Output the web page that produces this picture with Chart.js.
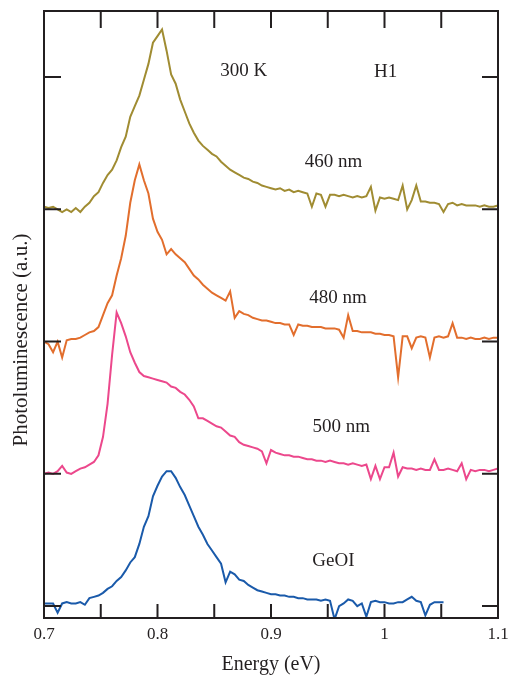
<!DOCTYPE html>
<html>
<head>
<meta charset="utf-8">
<title>PL spectra</title>
<script src="https://cdn.jsdelivr.net/npm/chart.js@4.4.1/dist/chart.umd.min.js"></script>
<style>
  html, body { margin: 0; padding: 0; background: #fff; }
</style>
</head>
<body>
<canvas id="plChart" width="509" height="677"></canvas>
<script>
// photon energy grid (eV)
const energy = [
  0.700, 0.704, 0.708, 0.712, 0.716, 0.720, 0.724, 0.728, 0.732, 0.736,
  0.740, 0.744, 0.748, 0.752, 0.756, 0.760, 0.764, 0.768, 0.772, 0.776,
  0.780, 0.784, 0.788, 0.792, 0.796, 0.800, 0.804, 0.808, 0.812, 0.816,
  0.820, 0.824, 0.828, 0.832, 0.836, 0.840, 0.844, 0.848, 0.852, 0.856,
  0.860, 0.864, 0.868, 0.872, 0.876, 0.880, 0.884, 0.888, 0.892, 0.896,
  0.900, 0.904, 0.908, 0.912, 0.916, 0.920, 0.924, 0.928, 0.932, 0.936,
  0.940, 0.944, 0.948, 0.952, 0.956, 0.960, 0.964, 0.968, 0.972, 0.976,
  0.980, 0.984, 0.988, 0.992, 0.996, 1.000, 1.004, 1.008, 1.012, 1.016,
  1.020, 1.024, 1.028, 1.032, 1.036, 1.040, 1.044, 1.048, 1.052, 1.056,
  1.060, 1.064, 1.068, 1.072, 1.076, 1.080, 1.084, 1.088, 1.092, 1.096,
  1.100
];

// PL intensity (a.u.), each spectrum relative to its own baseline
const pl460 = [
  0.02, 0.01, 0.02, 0.00, -0.02, 0.00, -0.02, 0.01, -0.02, 0.02,
  0.05, 0.10, 0.13, 0.20, 0.26, 0.30, 0.37, 0.47, 0.55, 0.70,
  0.78, 0.86, 0.98, 1.10, 1.26, 1.31, 1.36, 1.20, 1.02, 0.95,
  0.83, 0.74, 0.65, 0.58, 0.52, 0.48, 0.45, 0.42, 0.40, 0.36,
  0.33, 0.30, 0.28, 0.26, 0.24, 0.23, 0.21, 0.20, 0.18, 0.17,
  0.16, 0.15, 0.16, 0.14, 0.15, 0.13, 0.14, 0.13, 0.12, 0.02,
  0.12, 0.11, 0.02, 0.11, 0.11, 0.10, 0.11, 0.10, 0.09, 0.10,
  0.09, 0.10, 0.17, -0.01, 0.09, 0.08, 0.09, 0.08, 0.07, 0.18,
  0.00, 0.07, 0.18, 0.06, 0.06, 0.05, 0.05, 0.04, -0.02, 0.04,
  0.05, 0.03, 0.04, 0.03, 0.03, 0.03, 0.02, 0.03, 0.02, 0.02,
  0.03
];
const pl480 = [
  0.00, -0.02, -0.08, 0.00, -0.12, 0.01, 0.02, 0.02, 0.03, 0.05,
  0.07, 0.08, 0.11, 0.20, 0.29, 0.35, 0.50, 0.63, 0.80, 1.05,
  1.22, 1.34, 1.22, 1.12, 0.93, 0.83, 0.77, 0.66, 0.70, 0.66,
  0.63, 0.60, 0.55, 0.50, 0.47, 0.43, 0.40, 0.37, 0.35, 0.33,
  0.31, 0.38, 0.18, 0.23, 0.21, 0.20, 0.18, 0.17, 0.16, 0.16,
  0.15, 0.14, 0.14, 0.13, 0.13, 0.05, 0.13, 0.12, 0.12, 0.11,
  0.11, 0.11, 0.10, 0.10, 0.10, 0.09, 0.03, 0.20, 0.08, 0.08,
  0.07, 0.07, 0.07, 0.06, 0.06, 0.05, 0.05, 0.04, -0.27, 0.04,
  0.04, -0.05, 0.03, 0.04, 0.03, -0.12, 0.03, 0.04, 0.03, 0.04,
  0.14, 0.03, 0.03, 0.02, 0.03, 0.02, 0.02, 0.03, 0.02, 0.03,
  0.03
];
const pl500 = [
  0.00, 0.01, 0.00, 0.02, 0.06, 0.01, 0.00, 0.02, 0.04, 0.05,
  0.07, 0.09, 0.14, 0.28, 0.53, 0.90, 1.22, 1.14, 1.04, 0.92,
  0.84, 0.77, 0.74, 0.73, 0.72, 0.71, 0.70, 0.69, 0.66, 0.65,
  0.62, 0.60, 0.56, 0.51, 0.42, 0.42, 0.40, 0.38, 0.36, 0.35,
  0.32, 0.29, 0.28, 0.24, 0.22, 0.21, 0.20, 0.19, 0.17, 0.08,
  0.18, 0.16, 0.15, 0.14, 0.14, 0.13, 0.13, 0.12, 0.11, 0.11,
  0.10, 0.10, 0.09, 0.10, 0.09, 0.08, 0.08, 0.07, 0.08, 0.07,
  0.06, 0.07, -0.04, 0.06, -0.04, 0.05, 0.05, 0.16, -0.02, 0.05,
  0.04, 0.04, 0.03, 0.04, 0.03, 0.03, 0.11, 0.03, 0.03, 0.04,
  0.03, 0.02, 0.08, -0.04, 0.03, 0.02, 0.03, 0.03, 0.02, 0.03,
  0.04
];
const plGeOI = [
  0.02, 0.02, 0.02, -0.05, 0.02, 0.03, 0.02, 0.02, 0.03, 0.01,
  0.06, 0.07, 0.08, 0.10, 0.13, 0.15, 0.19, 0.22, 0.27, 0.33,
  0.37, 0.47, 0.60, 0.68, 0.83, 0.91, 0.98, 1.02, 1.02, 0.97,
  0.90, 0.84, 0.76, 0.68, 0.60, 0.54, 0.47, 0.42, 0.37, 0.32,
  0.18, 0.26, 0.24, 0.20, 0.19, 0.16, 0.14, 0.12, 0.11, 0.10,
  0.09, 0.09, 0.08, 0.08, 0.07, 0.07, 0.06, 0.06, 0.05, 0.05,
  0.05, 0.04, 0.05, 0.04, -0.10, 0.00, 0.02, 0.05, 0.04, 0.00,
  0.02, -0.08, 0.03, 0.04, 0.03, 0.03, 0.02, 0.02, 0.03, 0.03,
  0.05, 0.07, 0.04, 0.03, -0.07, 0.01, 0.03, 0.03, 0.03, null,
  null, null, null, null, null, null, null, null, null, null,
  null
];

const seriesNames = ['460 nm', '480 nm', '500 nm', 'GeOI'];
const seriesValues = [pl460, pl480, pl500, plGeOI];
const offsets = [3, 2, 1, 0];
const colors = ['#a08c32', '#e26e2d', '#ec488c', '#1a5aaa'];

const xLabelValues = [0.7, 0.8, 0.9, 1.0, 1.1];
const xTickLabels = ['0.7', '0.8', '0.9', '1', '1.1'];
const xTickMarks = [0.7, 0.75, 0.8, 0.85, 0.9, 0.95, 1.0, 1.05, 1.1];
const yTickMarks = [0, 1, 2, 3, 4];

// text in the plot: [text, energy, level]
const notes = [
  ['300 K', 0.876, 4.01],
  ['H1', 1.001, 4.00],
  ['460 nm', 0.955, 3.32],
  ['480 nm', 0.959, 2.29],
  ['500 nm', 0.962, 1.32],
  ['GeOI', 0.955, 0.30]
];

const serif = '"Liberation Serif", "Times New Roman", serif';
const ink = '#231f20';

const datasets = seriesValues.map((vals, s) => ({
  label: seriesNames[s],
  data: energy.map((e, i) => ({ x: e, y: vals[i] === null ? null : vals[i] + offsets[s] })),
  borderColor: colors[s],
  borderWidth: 2,
  pointRadius: 0,
  tension: 0,
  spanGaps: false
}));

const framePlugin = {
  id: 'frame',
  afterDraw(chart) {
    const { ctx, chartArea: a, scales: { x, y } } = chart;
    ctx.save();
    ctx.strokeStyle = ink;
    ctx.lineWidth = 2;
    ctx.strokeRect(a.left, a.top, a.right - a.left, a.bottom - a.top);
    ctx.beginPath();
    xTickMarks.forEach(v => {
      const px = x.getPixelForValue(v);
      ctx.moveTo(px, a.bottom); ctx.lineTo(px, a.bottom - 14);
      ctx.moveTo(px, a.top); ctx.lineTo(px, a.top + 17);
    });
    yTickMarks.forEach(v => {
      const py = y.getPixelForValue(v);
      ctx.moveTo(a.left, py); ctx.lineTo(a.left + 17, py);
      ctx.moveTo(a.right, py); ctx.lineTo(a.right - 16, py);
    });
    ctx.stroke();

    ctx.fillStyle = ink;
    ctx.font = '19px ' + serif;
    ctx.textAlign = 'center';
    ctx.textBaseline = 'alphabetic';
    notes.forEach(n => ctx.fillText(n[0], x.getPixelForValue(n[1]), y.getPixelForValue(n[2])));

    // y axis title
    ctx.translate(a.left - 23, a.top + 329);
    ctx.rotate(-Math.PI / 2);
    ctx.font = '21px ' + serif;
    ctx.textBaseline = 'middle';
    ctx.fillText('Photoluminescence (a.u.)', 0, 0);
    ctx.restore();
  }
};

const ctx = document.getElementById('plChart').getContext('2d');
const plChart = new Chart(ctx, {
  type: 'line',
  data: { datasets: datasets },
  options: {
    responsive: false,
    animation: false,
    layout: { autoPadding: false, padding: { left: 44, right: 11, top: 11, bottom: 0 } },
    plugins: { legend: { display: false }, tooltip: { enabled: false } },
    scales: {
      x: {
        type: 'linear',
        min: 0.7,
        max: 1.1,
        border: { display: false },
        grid: { display: false, drawTicks: false },
        afterBuildTicks: axis => { axis.ticks = xLabelValues.map(v => ({ value: v })); },
        afterFit: axis => {
          axis.height = 59;
          axis.paddingLeft = 0;
          axis.paddingRight = 0;
        },
        ticks: {
          padding: 6,
          color: ink,
          font: { family: serif, size: 17 },
          maxRotation: 0,
          autoSkip: false,
          callback: (value, index) => xTickLabels[index]
        },
        title: {
          display: true,
          text: 'Energy (eV)',
          color: ink,
          font: { family: serif, size: 20 },
          padding: { top: 0, bottom: 0 }
        }
      },
      y: {
        type: 'linear',
        min: -0.09,
        max: 4.5,
        display: false
      }
    }
  },
  plugins: [framePlugin]
});
</script>
</body>
</html>
